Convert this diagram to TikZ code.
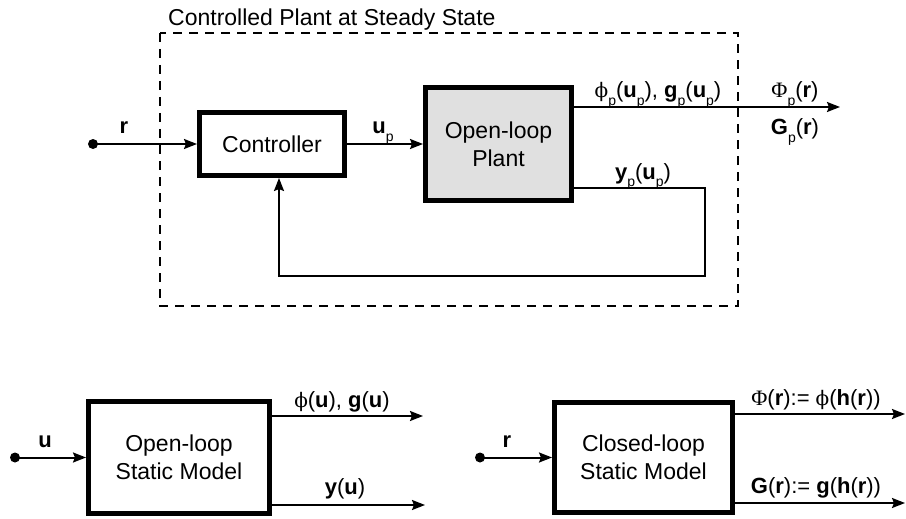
\documentclass[tikz,border=0pt]{standalone}
\usepackage{fontspec}
\setmainfont{Liberation Sans}
\newfontfamily\grk{Liberation Serif}
\newfontfamily\grkphi{DejaVu Serif}
\usetikzlibrary{arrows.meta}
\definecolor{plantgray}{RGB}{224,224,224}
\newcommand\lowp{\raisebox{-0.32em}{\fontsize{14}{14}\selectfont p}}
\newcommand\bv[1]{\textbf{#1}}
\newcommand\sphi{{\grkphi\fontsize{20}{24}\selectfont ϕ}}
\begin{document}
\begin{tikzpicture}[x=1pt,y=-1pt,
  font=\fontsize{23}{28}\selectfont,
  blk/.style={draw, line width=5pt, align=center, inner sep=0pt},
  sig/.style={line width=2pt, -{Stealth[length=13pt,width=10pt,inset=2pt]}},
  lbl/.style={inner sep=0pt, anchor=base, font=\fontsize{22}{26}\selectfont},
  dotnode/.style={circle, fill, inner sep=0pt, minimum size=10pt},
  frame/.style={line width=1.5pt, dash pattern=on 9pt off 7pt}]
\useasboundingbox (0,0) rectangle (906,519);

% dashed frame
\draw[frame] (160,33) rectangle (738,306);
\node[anchor=base west, inner sep=0pt] (title) at (168,26) {Controlled Plant at Steady State};

% blocks
\node[blk, minimum width=145pt, minimum height=63pt] (ctrl) at (272,144) {Controller};
\node[blk, fill=plantgray, minimum width=146pt, minimum height=113pt] (plant) at (498.5,144) {Open-loop\\Plant};
\node[blk, minimum width=181pt, minimum height=112pt] (olm) at (179,457.5) {Open-loop\\Static Model};
\node[blk, minimum width=178pt, minimum height=110pt] (clm) at (643.5,457.5) {Closed-loop\\Static Model};

% input dots
\node[dotnode] (r0) at (93,144) {};
\node[dotnode] (u0) at (15,457.5) {};
\node[dotnode] (r1) at (480,457.5) {};

% coordinates
\coordinate (po) at (840,107);
\coordinate (fb1) at (705,188);
\coordinate (fb2) at (279,276);
\coordinate (oa) at (423,416);
\coordinate (ob) at (425,505);
\coordinate (ca) at (905,414);
\coordinate (cb) at (905,503);

% connectors
\draw[sig] (r0.center) -- (ctrl.west);
\draw[sig] (ctrl.east) -- (plant.west);
\draw[sig] (plant.east |- po) -- (po);
\draw[sig] (plant.east |- fb1) -- (fb1) |- (fb2) -- (fb2 |- ctrl.south);
\draw[sig] (u0.center) -- (olm.west);
\draw[sig] (olm.east |- oa) -- (oa);
\draw[sig] (olm.east |- ob) -- (ob);
\draw[sig] (r1.center) -- (clm.west);
\draw[sig] (clm.east |- ca) -- (ca);
\draw[sig] (clm.east |- cb) -- (cb);

% labels
\node[lbl] (lr) at (124,134) {\bv{r}};
\node[lbl] (lup) at (383,134) {\bv{u}\lowp};
\node[lbl] (lphip) at (658,98) {\sphi\lowp(\bv{u}\lowp), \bv{g}\lowp(\bv{u}\lowp)};
\node[lbl] (lPhip) at (795,98) {{\grk Φ}\lowp(\bv{r})};
\node[lbl] (lGp) at (795,135) {\bv{G}\lowp(\bv{r})};
\node[lbl] (lyp) at (643,179) {\bv{y}\lowp(\bv{u}\lowp)};
\node[lbl] (lu) at (45,447) {\bv{u}};
\node[lbl] (lphi) at (342,407) {\sphi(\bv{u}), \bv{g}(\bv{u})};
\node[lbl] (ly) at (345,494) {\bv{y}(\bv{u})};
\node[lbl] (lr1) at (507,447) {\bv{r}};
\node[lbl] (lPhi) at (816,405) {{\grk Φ}(\bv{r}):= \sphi(\bv{h}(\bv{r}))};
\node[lbl] (lG) at (816,493) {\bv{G}(\bv{r}):= \bv{g}(\bv{h}(\bv{r}))};
\end{tikzpicture}
\end{document}
